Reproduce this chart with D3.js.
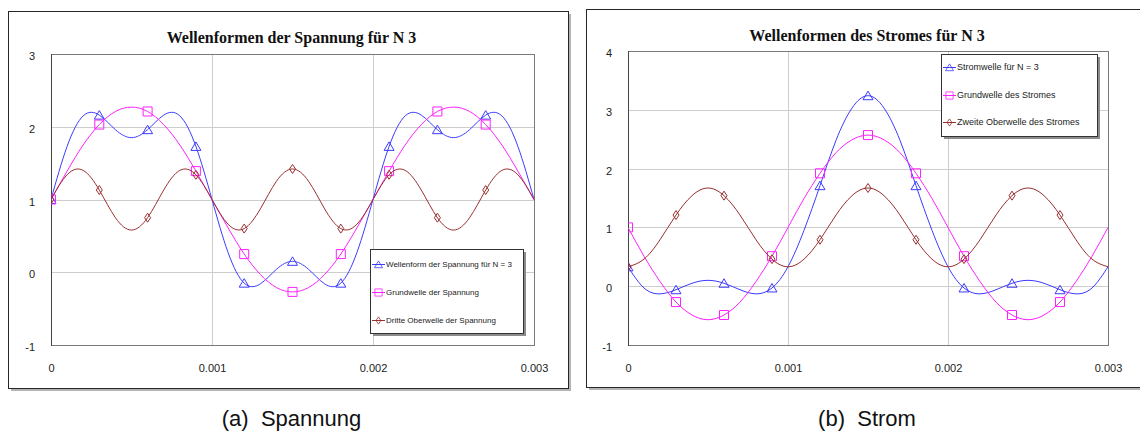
<!DOCTYPE html>
<html>
<head>
<meta charset="utf-8">
<script src="https://cdn.jsdelivr.net/npm/d3@7"></script>
<style>
body {margin: 0; background: #fff}
svg {display: block}
</style>
</head>
<body>
<svg id="chart" width="1140" height="432"></svg>
<script>
// sample times (s)
const timeSteps = [0, 0.0001, 0.0002, 0.0003, 0.0004, 0.0005, 0.0006, 0.0007, 0.0008, 0.0009,
    0.0010, 0.0011, 0.0012, 0.0013, 0.0014, 0.0015, 0.0016, 0.0017, 0.0018, 0.0019,
    0.0020, 0.0021, 0.0022, 0.0023, 0.0024, 0.0025, 0.0026, 0.0027, 0.0028, 0.0029, 0.0030]
const xTicks = [0, 0.001, 0.002, 0.003]
const xTickLabels = ['0', '0.001', '0.002', '0.003']
const spannungTicks = [-1, 0, 1, 2, 3]
const stromTicks = [-1, 0, 1, 2, 3, 4]

// (a) Spannung
const spannungN3 = [1.00, 1.73, 2.15, 2.16, 1.96, 1.85, 1.96, 2.16, 2.15, 1.73,
    1.00, 0.27, -0.15, -0.16, 0.04, 0.15, 0.04, -0.16, -0.15, 0.27,
    1.00, 1.73, 2.15, 2.16, 1.96, 1.85, 1.96, 2.16, 2.15, 1.73, 1.00]
const spannungGrund = [1.00, 1.39, 1.75, 2.03, 2.21, 2.27, 2.21, 2.03, 1.75, 1.39,
    1.00, 0.61, 0.25, -0.03, -0.21, -0.27, -0.21, -0.03, 0.25, 0.61,
    1.00, 1.39, 1.75, 2.03, 2.21, 2.27, 2.21, 2.03, 1.75, 1.39, 1.00]
const spannungDritte = [1.00, 1.34, 1.40, 1.13, 0.75, 0.58, 0.75, 1.13, 1.40, 1.34,
    1.00, 0.66, 0.60, 0.87, 1.25, 1.42, 1.25, 0.87, 0.60, 0.66,
    1.00, 1.34, 1.40, 1.13, 0.75, 0.58, 0.75, 1.13, 1.40, 1.34, 1.00]

// (b) Strom
const stromN3 = [0.33, -0.03, -0.13, -0.06, 0.05, 0.10, 0.05, -0.06, -0.13, -0.03,
    0.33, 0.95, 1.71, 2.48, 3.03, 3.24, 3.03, 2.48, 1.71, 0.95,
    0.33, -0.03, -0.13, -0.06, 0.05, 0.10, 0.05, -0.06, -0.13, -0.03, 0.33]
const stromGrund = [1.00, 0.51, 0.08, -0.27, -0.49, -0.57, -0.49, -0.27, 0.08, 0.51,
    1.00, 1.49, 1.92, 2.27, 2.49, 2.57, 2.49, 2.27, 1.92, 1.49,
    1.00, 0.51, 0.08, -0.27, -0.49, -0.57, -0.49, -0.27, 0.08, 0.51, 1.00]
const stromZweite = [0.33, 0.46, 0.79, 1.21, 1.54, 1.67, 1.54, 1.21, 0.79, 0.46,
    0.33, 0.46, 0.79, 1.21, 1.54, 1.67, 1.54, 1.21, 0.79, 0.46,
    0.33, 0.46, 0.79, 1.21, 1.54, 1.67, 1.54, 1.21, 0.79, 0.46, 0.33]

const BLUE = '#3c3cff', MAGENTA = '#ff22ff', BROWN = '#9a2f2f'

const markerPaths = {
    triangle: 'M-5,4L5,4L0,-4.5Z',
    square: 'M-4.5,-4.5H4.5V4.5H-4.5Z',
    diamond: 'M0,-4.5L3,0L0,4.5L-3,0Z'
}

const panels = [
    {
        id: 'a',
        title: 'Wellenformen der Spannung für N 3',
        caption: '(a)\u00a0\u00a0Spannung',
        frame: {x: 8, y: 11, w: 560, h: 377},
        plot: {left: 51, right: 534, top: 54, bottom: 345},
        titleY: 43,
        yDomain: [-1, 3], yTicks: spannungTicks,
        series: [
            {name: 'Wellenform der Spannung für N = 3', values: spannungN3, color: BLUE, marker: 'triangle'},
            {name: 'Grundwelle der Spannung', values: spannungGrund, color: MAGENTA, marker: 'square'},
            {name: 'Dritte Oberwelle der Spannung', values: spannungDritte, color: BROWN, marker: 'diamond'}
        ],
        legend: {x: 370, y: 249, w: 153, h: 84, rows: [264, 292, 320], font: 8}
    },
    {
        id: 'b',
        title: 'Wellenformen des Stromes für N 3',
        caption: '(b)\u00a0\u00a0Strom',
        frame: {x: 586, y: 9, w: 570, h: 378},
        plot: {left: 628, right: 1108, top: 51, bottom: 345},
        titleY: 41,
        yDomain: [-1, 4], yTicks: stromTicks,
        series: [
            {name: 'Stromwelle für N = 3', values: stromN3, color: BLUE, marker: 'triangle'},
            {name: 'Grundwelle des Stromes', values: stromGrund, color: MAGENTA, marker: 'square'},
            {name: 'Zweite Oberwelle des Stromes', values: stromZweite, color: BROWN, marker: 'diamond'}
        ],
        legend: {x: 941, y: 54, w: 156, h: 82, rows: [67, 95, 122], font: 9}
    }
]

const svg = d3.select('#chart')
const defs = svg.append('defs')

function drawPanel(p) {
    const g = svg.append('g')
    const f = p.frame

    // frame with shadow
    g.append('rect')
        .attr('x', f.x + 3).attr('y', f.y + 3)
        .attr('width', f.w).attr('height', f.h)
        .attr('fill', '#b4b4b4')
    g.append('rect')
        .attr('x', f.x + 0.5).attr('y', f.y + 0.5)
        .attr('width', f.w).attr('height', f.h)
        .attr('fill', '#fff').attr('stroke', '#262626')

    const xScale = d3.scaleLinear().domain([0, 0.003]).range([p.plot.left, p.plot.right])
    const yScale = d3.scaleLinear().domain(p.yDomain).range([p.plot.bottom, p.plot.top])

    defs.append('clipPath').attr('id', 'clip-' + p.id)
        .append('rect')
        .attr('x', p.plot.left).attr('y', p.plot.top - 10)
        .attr('width', p.plot.right - p.plot.left + 1).attr('height', p.plot.bottom - p.plot.top + 20)

    // grid
    g.append('g').selectAll('line')
        .data(p.yTicks.slice(1, -1))
        .join('line')
        .attr('x1', p.plot.left).attr('x2', p.plot.right)
        .attr('y1', d => Math.round(yScale(d)) + 0.5).attr('y2', d => Math.round(yScale(d)) + 0.5)
        .attr('stroke', '#cdcdcd')
    g.append('g').selectAll('line')
        .data(xTicks.slice(1, -1))
        .join('line')
        .attr('x1', d => Math.round(xScale(d)) + 0.5).attr('x2', d => Math.round(xScale(d)) + 0.5)
        .attr('y1', p.plot.top).attr('y2', p.plot.bottom)
        .attr('stroke', '#cdcdcd')

    // plot border
    g.append('rect')
        .attr('x', p.plot.left + 0.5).attr('y', p.plot.top + 0.5)
        .attr('width', p.plot.right - p.plot.left).attr('height', p.plot.bottom - p.plot.top)
        .attr('fill', 'none').attr('stroke', '#7a7a7a')
    g.append('line')
        .attr('x1', p.plot.left + 0.5).attr('x2', p.plot.left + 0.5)
        .attr('y1', p.plot.top).attr('y2', p.plot.bottom + 1)
        .attr('stroke', '#444')

    // axes (plain hyphen for negatives, as in the original)
    const yAxis = d3.axisLeft(yScale).tickValues(p.yTicks).tickFormat(d => String(d))
        .tickSize(0).tickPadding(16)
    const xAxis = d3.axisBottom(xScale).tickValues(xTicks)
        .tickFormat((d, i) => xTickLabels[i]).tickSize(0).tickPadding(19)
    const ya = g.append('g').attr('transform', `translate(${p.plot.left},0)`).call(yAxis)
    const xa = g.append('g').attr('transform', `translate(0,${p.plot.bottom})`).call(xAxis)
    ya.selectAll('text').attr('dy', '0.5em')
    for (const a of [ya, xa]) {
        a.select('.domain').remove()
        a.selectAll('text')
            .attr('font-family', 'Liberation Sans, Arial, sans-serif')
            .attr('font-size', 11)
            .attr('fill', '#222')
    }

    // title
    g.append('text')
        .attr('x', (p.plot.left + p.plot.right) / 2 - 1)
        .attr('y', p.titleY)
        .attr('text-anchor', 'middle')
        .attr('font-family', 'Liberation Serif, Times New Roman, serif')
        .attr('font-weight', 'bold')
        .attr('font-size', 16)
        .attr('fill', '#111')
        .text(p.title)

    // series
    const line = d3.line()
        .x((d, i) => xScale(timeSteps[i]))
        .y(d => yScale(d))
        .curve(d3.curveNatural)
    const plotArea = g.append('g').attr('clip-path', `url(#clip-${p.id})`)
    p.series.forEach(s => {
        plotArea.append('path')
            .datum(s.values)
            .attr('d', line)
            .attr('fill', 'none')
            .attr('stroke', s.color)
            .attr('stroke-width', 1)
        // a marker every third sample, none on the last one
        plotArea.append('g').selectAll('path')
            .data(s.values.map((v, i) => ({t: timeSteps[i], v}))
                .filter((d, i) => i % 3 === 0 && i < s.values.length - 1))
            .join('path')
            .attr('transform', d => `translate(${xScale(d.t)},${yScale(d.v)})`)
            .attr('d', markerPaths[s.marker])
            .attr('fill', 'none')
            .attr('stroke', s.color)
            .attr('stroke-width', 1)
    })

    // legend
    const L = p.legend
    g.append('rect')
        .attr('x', L.x + 3).attr('y', L.y + 3).attr('width', L.w).attr('height', L.h)
        .attr('fill', '#8c8c8c')
    g.append('rect')
        .attr('x', L.x + 0.5).attr('y', L.y + 0.5).attr('width', L.w).attr('height', L.h)
        .attr('fill', '#fff').attr('stroke', '#333')
    p.series.forEach((s, i) => {
        const ry = L.rows[i]
        g.append('line')
            .attr('x1', L.x + 2).attr('x2', L.x + 15)
            .attr('y1', ry + 0.5).attr('y2', ry + 0.5)
            .attr('stroke', s.color)
        g.append('path')
            .attr('transform', `translate(${L.x + 8.5},${ry + 0.5}) scale(0.8)`)
            .attr('d', markerPaths[s.marker])
            .attr('fill', 'none')
            .attr('stroke', s.color)
        g.append('text')
            .attr('x', L.x + 16).attr('y', ry)
            .attr('dy', '0.35em')
            .attr('font-family', 'Liberation Sans, Arial, sans-serif')
            .attr('font-size', L.font)
            .attr('fill', '#222')
            .text(s.name)
    })

    // caption under the panel
    svg.append('text')
        .attr('x', (p.plot.left + p.plot.right) / 2 - 1)
        .attr('y', 426)
        .attr('text-anchor', 'middle')
        .attr('font-family', 'Liberation Sans, Arial, sans-serif')
        .attr('font-size', 22)
        .attr('fill', '#111')
        .text(p.caption)
}

panels.forEach(drawPanel)
</script>
</body>
</html>
